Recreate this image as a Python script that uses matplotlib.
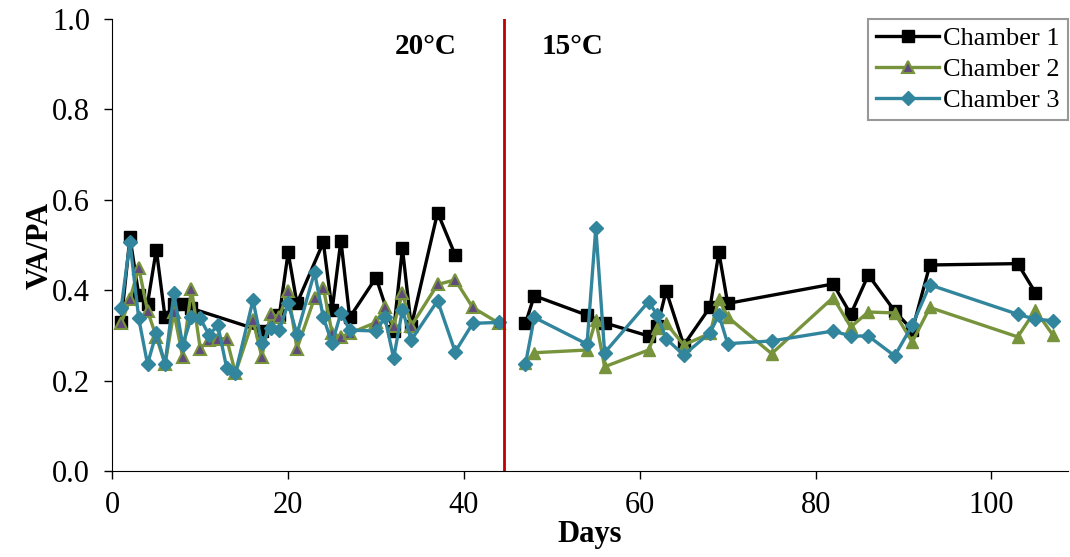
import matplotlib.pyplot as plt
import numpy as np

plt.rcParams['font.family'] = ['Liberation Serif', 'DejaVu Serif']

# Chamber 1 (black squares)
c1_days_20 = [1, 2, 3, 4, 5, 6, 7, 8, 9, 17, 19, 20, 21, 24, 25, 26, 27, 30, 32, 33, 34, 37, 39]
c1_vals_20 = [0.33, 0.517, 0.39, 0.37, 0.49, 0.34, 0.37, 0.37, 0.36, 0.31, 0.345, 0.484, 0.371,
              0.506, 0.356, 0.51, 0.34, 0.428, 0.31, 0.493, 0.32, 0.572, 0.478]
c1_days_15 = [47, 48, 54, 56, 61, 62, 63, 65, 68, 69, 70, 82, 84, 86, 89, 91, 93, 103, 105]
c1_vals_15 = [0.327, 0.388, 0.345, 0.328, 0.299, 0.32, 0.399, 0.279, 0.363, 0.484, 0.371,
              0.414, 0.347, 0.434, 0.354, 0.312, 0.456, 0.459, 0.395]

# Chamber 2 (green triangles)
c2_days_20 = [1, 2, 3, 4, 5, 6, 7, 8, 9, 10, 11, 12, 13, 14, 16, 17, 18, 19, 20, 21, 23, 24,
              25, 26, 27, 30, 31, 32, 33, 34, 37, 39, 41, 44]
c2_vals_20 = [0.327, 0.38, 0.45, 0.355, 0.297, 0.237, 0.352, 0.253, 0.403, 0.271, 0.29, 0.293,
              0.293, 0.217, 0.334, 0.253, 0.347, 0.341, 0.398, 0.271, 0.383, 0.406, 0.305,
              0.297, 0.305, 0.329, 0.363, 0.321, 0.394, 0.321, 0.413, 0.423, 0.362, 0.327]
c2_days_15 = [47, 48, 54, 55, 56, 61, 62, 63, 65, 68, 69, 70, 75, 82, 84, 86, 89, 91, 93, 103,
              105, 107]
c2_vals_15 = [0.24, 0.262, 0.268, 0.334, 0.231, 0.268, 0.316, 0.327, 0.279, 0.305, 0.381,
              0.341, 0.26, 0.384, 0.319, 0.352, 0.35, 0.286, 0.362, 0.297, 0.356, 0.301]

# Chamber 3 (teal diamonds)
c3_days_20 = [1, 2, 3, 4, 5, 6, 7, 8, 9, 10, 11, 12, 13, 14, 16, 17, 18, 19, 20, 21, 23, 24,
              25, 26, 27, 30, 31, 32, 33, 34, 37, 39, 41, 44]
c3_vals_20 = [0.36, 0.507, 0.338, 0.237, 0.305, 0.237, 0.393, 0.279, 0.341, 0.338, 0.301,
              0.323, 0.229, 0.217, 0.378, 0.283, 0.316, 0.313, 0.371, 0.303, 0.44, 0.34,
              0.283, 0.35, 0.312, 0.31, 0.34, 0.25, 0.357, 0.29, 0.377, 0.264, 0.327, 0.329]
c3_days_15 = [47, 48, 54, 55, 56, 61, 62, 63, 65, 68, 69, 70, 75, 82, 84, 86, 89, 91, 93, 103,
              105, 107]
c3_vals_15 = [0.237, 0.34, 0.281, 0.538, 0.262, 0.375, 0.345, 0.293, 0.257, 0.306, 0.346,
              0.282, 0.288, 0.31, 0.299, 0.299, 0.255, 0.323, 0.412, 0.347, 0.336, 0.333]

switch_day = 44.5

green = '#77933C'
teal = '#31859C'
purple = '#604A7B'

fig = plt.figure(figsize=(10.7, 5.57), dpi=100)
ax = fig.add_axes([0.105, 0.154, 0.893, 0.812])

lw = 2.4
ax.plot(c1_days_20, c1_vals_20, color='black', lw=lw, marker='s', ms=8, label='Chamber 1')
ax.plot(c1_days_15, c1_vals_15, color='black', lw=lw, marker='s', ms=8)
ax.plot(c2_days_20, c2_vals_20, color=green, lw=lw, marker='^', ms=9,
        markerfacecolor=purple, markeredgecolor=green, markeredgewidth=1.5, label='Chamber 2')
ax.plot(c2_days_15, c2_vals_15, color=green, lw=lw, marker='^', ms=9,
        markerfacecolor=green, markeredgecolor=green)
ax.plot(c3_days_20, c3_vals_20, color=teal, lw=lw, marker='D', ms=7, label='Chamber 3')
ax.plot(c3_days_15, c3_vals_15, color=teal, lw=lw, marker='D', ms=7)

ax.axvline(switch_day, color='#C00000', lw=2)
ax.text(35.6, 0.94, '20°C', fontsize=21, fontweight='bold', ha='center', va='center')
ax.text(52.3, 0.94, '15°C', fontsize=21, fontweight='bold', ha='center', va='center')

ax.set_xlim(0, 108.7)
ax.set_ylim(0, 1.0)
ax.set_xticks(np.arange(0, 101, 20))
ax.set_yticks(np.arange(0, 1.01, 0.2))
ax.yaxis.set_major_formatter(plt.FormatStrFormatter('%.1f'))
ax.tick_params(labelsize=22, direction='out', length=6, width=1)
ax.tick_params(axis='x', pad=8)
ax.tick_params(axis='y', pad=10)
ax.spines['top'].set_visible(False)
ax.spines['right'].set_visible(False)
ax.set_xlabel('Days', fontsize=22, fontweight='bold', labelpad=0)
ax.set_ylabel('VA/PA', fontsize=22, fontweight='bold', labelpad=-2)

leg = ax.legend(loc='upper right', fontsize=19, frameon=True, fancybox=False, shadow=False,
                handlelength=2.4, borderpad=0.3, labelspacing=0.28, handletextpad=0.15,
                borderaxespad=0.0, bbox_to_anchor=(1.0, 1.0))
leg.get_frame().set_edgecolor('#7f7f7f')
leg.get_frame().set_linewidth(1.5)

fig.savefig('out.png', dpi=100)
